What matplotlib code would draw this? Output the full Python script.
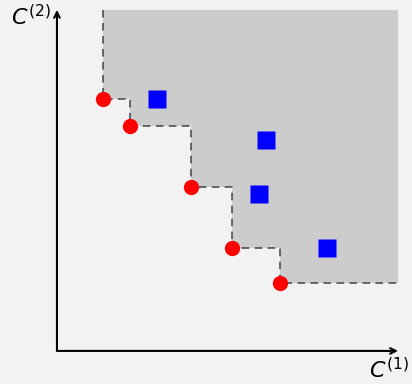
import matplotlib
matplotlib.use("Agg")
import matplotlib.pyplot as plt

# pareto front (red) and dominated solutions (blue)
front_x = [1.35, 2.14, 3.93, 5.13, 6.54]
front_y = [7.39, 6.60, 4.81, 3.02, 1.99]
dom_x = [2.93, 6.13, 5.92, 7.92]
dom_y = [7.39, 6.19, 4.60, 3.02]
lim = 10.0

bg = "#f2f2f2"
fig = plt.figure(figsize=(4.12, 3.84), dpi=100, facecolor=bg)
ax = fig.add_axes([0, 0, 1, 1])
ax.set_facecolor(bg)
ax.set_xlim(-1.67, 10.41)
ax.set_ylim(-0.97, 10.29)
ax.axis("off")

# staircase boundary of the dominated region
sx = [front_x[0]]
sy = [lim]
for i in range(len(front_x)):
    sx.append(front_x[i]); sy.append(front_y[i])
    nx = front_x[i + 1] if i + 1 < len(front_x) else lim
    sx.append(nx); sy.append(front_y[i])
px = sx + [lim]
py = sy + [lim]
ax.fill(px, py, color="#cccccc", lw=0, zorder=1)
ax.plot(sx, sy, color="#444444", lw=1.1, ls=(0, (5, 3.5)), zorder=2)

# axes arrows
ax.annotate("", xy=(lim, 0), xytext=(0, 0),
            arrowprops=dict(arrowstyle="->", lw=1.5, color="black", shrinkA=0, shrinkB=0))
ax.annotate("", xy=(0, lim), xytext=(0, 0),
            arrowprops=dict(arrowstyle="->", lw=1.5, color="black", shrinkA=0, shrinkB=0))
ax.text(-0.18, 10.17, r"$C^{(2)}$", fontsize=16, ha="right", va="top")
ax.text(10.33, -0.93, r"$C^{(1)}$", fontsize=16, ha="right", va="bottom")

ax.plot(front_x, front_y, "o", color="red", ms=11, mec="none", zorder=4)
ax.plot(dom_x, dom_y, "s", color="blue", ms=13, mec="none", zorder=4)

fig.savefig("out.png", dpi=100, facecolor=bg)
